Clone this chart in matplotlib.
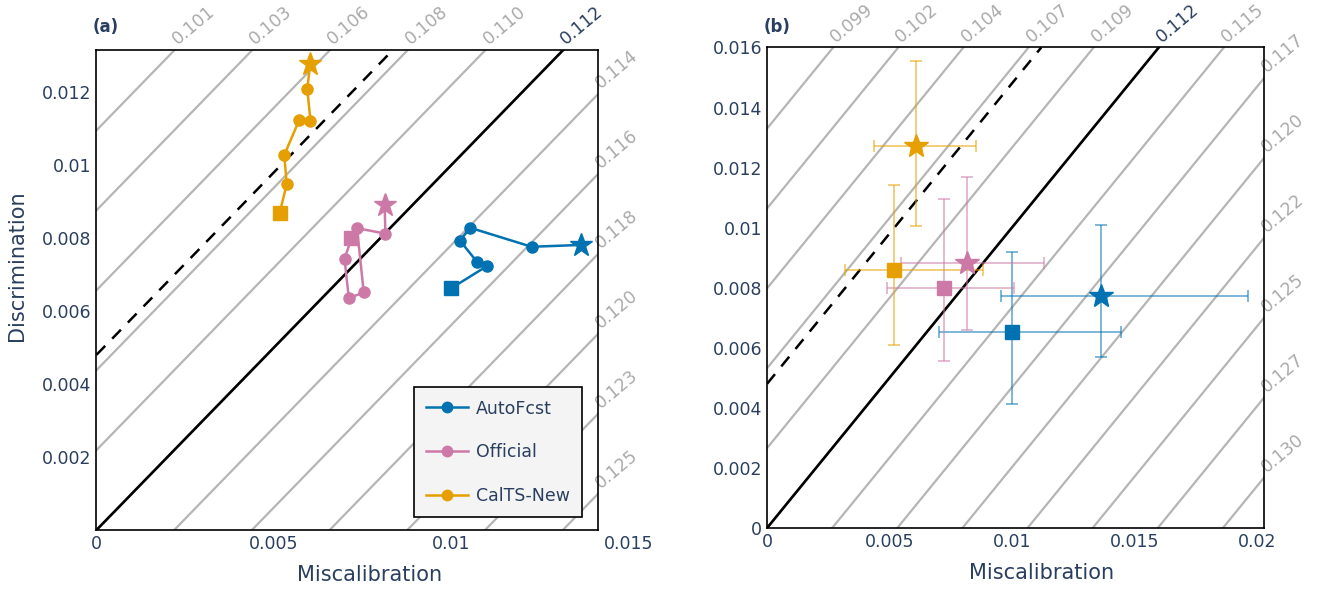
import numpy as np
import matplotlib
matplotlib.use("Agg")
import matplotlib.pyplot as plt
from matplotlib.lines import Line2D

# colours
TXT = "#2a3f5f"
GRAY = "#b5b5b5"
LAB_GRAY = "#aaaaaa"
C_AUTO = "#0072B2"
C_OFF = "#CC79A7"
C_CAL = "#E69F00"

names = ["AutoFcst", "Official", "CalTS-New"]
colors = [C_AUTO, C_OFF, C_CAL]

# panel (a): trajectories, first point = square, last point = star
auto_mcb = [0.00999, 0.01100, 0.01072, 0.01024, 0.01053, 0.01226, 0.01365]
auto_dsc = [0.00662, 0.00723, 0.00735, 0.00793, 0.00828, 0.00776, 0.00781]
off_mcb = [0.00718, 0.00699, 0.00711, 0.00753, 0.00734, 0.00814, 0.00812]
off_dsc = [0.00799, 0.00742, 0.00635, 0.00651, 0.00827, 0.00812, 0.00890]
cal_mcb = [0.00516, 0.00536, 0.00529, 0.00571, 0.00603, 0.00594, 0.00602]
cal_dsc = [0.00868, 0.00948, 0.01027, 0.01123, 0.01121, 0.01207, 0.01277]

# panel (b): start (square) and end (star) with intervals
sq_mcb = [0.01000, 0.00722, 0.00518]
sq_dsc = [0.00654, 0.00799, 0.00860]
sq_mcb_lo = [0.00702, 0.00489, 0.00318]
sq_mcb_hi = [0.01445, 0.01007, 0.00881]
sq_dsc_lo = [0.00413, 0.00557, 0.00610]
sq_dsc_hi = [0.00919, 0.01097, 0.01143]
st_mcb = [0.01364, 0.00817, 0.00609]
st_dsc = [0.00773, 0.00884, 0.01271]
st_mcb_lo = [0.00956, 0.00546, 0.00437]
st_mcb_hi = [0.01963, 0.01132, 0.00854]
st_dsc_lo = [0.00568, 0.00660, 0.01004]
st_dsc_hi = [0.01008, 0.01169, 0.01554]

# score isolines: DSC = MCB - k*step, black one is k=0, labels start at k=-5
ref_gap = 0.0048
step_a = 0.00219
step_b = 0.00266
iso_top_a = ["0.101", "0.103", "0.106", "0.108", "0.110", "0.112"]
iso_right_a = ["0.114", "0.116", "0.118", "0.120", "0.123", "0.125"]
iso_top_b = ["0.099", "0.102", "0.104", "0.107", "0.109", "0.112", "0.115"]
iso_right_b = ["0.117", "0.120", "0.122", "0.125", "0.127", "0.130"]

xlim_a = (0, 0.01413)
ylim_a = (0, 0.01315)
xlim_b = (0, 0.0203)
ylim_b = (0, 0.016)

xt_a = [0, 0.005, 0.01, 0.015]
xl_a = ["0", "0.005", "0.01", "0.015"]
yt_a = [0.002, 0.004, 0.006, 0.008, 0.01, 0.012]
yl_a = ["0.002", "0.004", "0.006", "0.008", "0.01", "0.012"]
xt_b = [0, 0.005, 0.01, 0.015, 0.02]
xl_b = ["0", "0.005", "0.01", "0.015", "0.02"]
yt_b = [0, 0.002, 0.004, 0.006, 0.008, 0.01, 0.012, 0.014, 0.016]
yl_b = ["0", "0.002", "0.004", "0.006", "0.008", "0.01", "0.012", "0.014", "0.016"]

PAD = 3.5
K0 = -5


def isolines(ax, step, top_labels, right_labels):
    x1 = ax.get_xlim()[1]
    y1 = ax.get_ylim()[1]
    for k in range(K0, 14):
        ax.axline((0, -k * step), slope=1, color=GRAY, lw=1.6, zorder=1)
    ax.axline((0, 0), slope=1, color="black", lw=1.9, zorder=2)
    ax.axline((0, ref_gap), slope=1, color="black", lw=1.8, ls=(0, (5, 4)), zorder=2)
    # labels along top edge
    for i, lab in enumerate(top_labels):
        k = K0 + i
        col = TXT if k == 0 else LAB_GRAY
        ax.annotate(lab, (y1 + k * step, y1), xytext=(2.2, 3.5), textcoords="offset points",
                    rotation=40, rotation_mode="anchor", ha="left", va="baseline",
                    color=col, fontsize=12.5, annotation_clip=False)
    # labels along right edge
    kr = K0 + len(top_labels)
    for i, lab in enumerate(right_labels):
        k = kr + i
        ax.annotate(lab, (x1, x1 - k * step), xytext=(2.2, 3.5), textcoords="offset points",
                    rotation=40, rotation_mode="anchor", ha="left", va="baseline",
                    color=LAB_GRAY, fontsize=12.5, annotation_clip=False)


def style(ax, xt, xl, yt, yl):
    x1 = ax.get_xlim()[1]
    inside = [(t, l) for t, l in zip(xt, xl) if t <= x1]
    ax.set_xticks([t for t, l in inside])
    ax.set_xticklabels([l for t, l in inside])
    for t, l in zip(xt, xl):
        if t > x1:
            ax.annotate(l, (t, 0), xycoords=("data", "axes fraction"), xytext=(0, -PAD),
                        textcoords="offset points", ha="center", va="top",
                        fontsize=12.5, color=TXT, annotation_clip=False)
    ax.set_yticks(yt)
    ax.set_yticklabels(yl)
    ax.tick_params(length=0, pad=PAD, labelsize=12.5, labelcolor=TXT)
    for s in ax.spines.values():
        s.set_color("black")
        s.set_linewidth(1.2)
        s.set_zorder(10)


fig = plt.figure(figsize=(13.2, 5.92), dpi=100)
ax_a = fig.add_axes([0.0731, 0.1047, 0.3799, 0.8108])
ax_b = fig.add_axes([0.5811, 0.1081, 0.3765, 0.8117])

# ---- panel (a)
ax_a.set_xlim(*xlim_a)
ax_a.set_ylim(*ylim_a)
isolines(ax_a, step_a, iso_top_a, iso_right_a)

series_a = [(auto_mcb, auto_dsc), (off_mcb, off_dsc), (cal_mcb, cal_dsc)]
for (mcb, dsc), col in zip(series_a, colors):
    ax_a.plot(mcb, dsc, "-", color=col, lw=1.8, zorder=5)
    ax_a.plot(mcb[1:-1], dsc[1:-1], "o", color=col, ms=8, zorder=6)
    ax_a.plot(mcb[0], dsc[0], "s", color=col, ms=10, zorder=6)
    ax_a.plot(mcb[-1], dsc[-1], "*", color=col, ms=17, zorder=6)

handles = [Line2D([], [], color=c, marker="o", lw=1.8, ms=7.5) for c in colors]
leg = ax_a.legend(handles, names, loc="lower right", bbox_to_anchor=(0.969, 0.027),
                  borderaxespad=0, fancybox=False, facecolor="#f4f4f4", edgecolor="black",
                  framealpha=1, fontsize=12.5, labelspacing=1.48, handlelength=2.45,
                  borderpad=0.7, handletextpad=0.45, labelcolor=TXT)
leg.get_frame().set_linewidth(1.2)
leg.set_zorder(20)

style(ax_a, xt_a, xl_a, yt_a, yl_a)
ax_a.set_xlabel("Miscalibration", fontsize=15, color=TXT)
ax_a.xaxis.set_label_coords(0.545, -0.073)
ax_a.set_ylabel("Discrimination", fontsize=15, color=TXT)
ax_a.yaxis.set_label_coords(-0.139, 0.55)

# ---- panel (b)
ax_b.set_xlim(*xlim_b)
ax_b.set_ylim(*ylim_b)
isolines(ax_b, step_b, iso_top_b, iso_right_b)

for i, col in enumerate(colors):
    for x, y, xlo, xhi, ylo, yhi, mk, ms in [
        (sq_mcb[i], sq_dsc[i], sq_mcb_lo[i], sq_mcb_hi[i], sq_dsc_lo[i], sq_dsc_hi[i], "s", 10),
        (st_mcb[i], st_dsc[i], st_mcb_lo[i], st_mcb_hi[i], st_dsc_lo[i], st_dsc_hi[i], "*", 18),
    ]:
        ax_b.errorbar([x], [y], xerr=[[x - xlo], [xhi - x]], yerr=[[y - ylo], [yhi - y]],
                      fmt="none", ecolor=col, alpha=0.6, capsize=4, elinewidth=1.2,
                      capthick=1.2, zorder=4)
        ax_b.plot(x, y, mk, color=col, ms=ms, zorder=6)

style(ax_b, xt_b, xl_b, yt_b, yl_b)
ax_b.set_xlabel("Miscalibration", fontsize=15, color=TXT)
ax_b.xaxis.set_label_coords(0.552, -0.073)

fig.text(93 / 1320, 1 - 27 / 592, "(a)", fontsize=12, fontweight="bold", color=TXT,
         ha="left", va="center")
fig.text(764 / 1320, 1 - 27 / 592, "(b)", fontsize=12, fontweight="bold", color=TXT,
         ha="left", va="center")

fig.savefig("out.png", dpi=100)
